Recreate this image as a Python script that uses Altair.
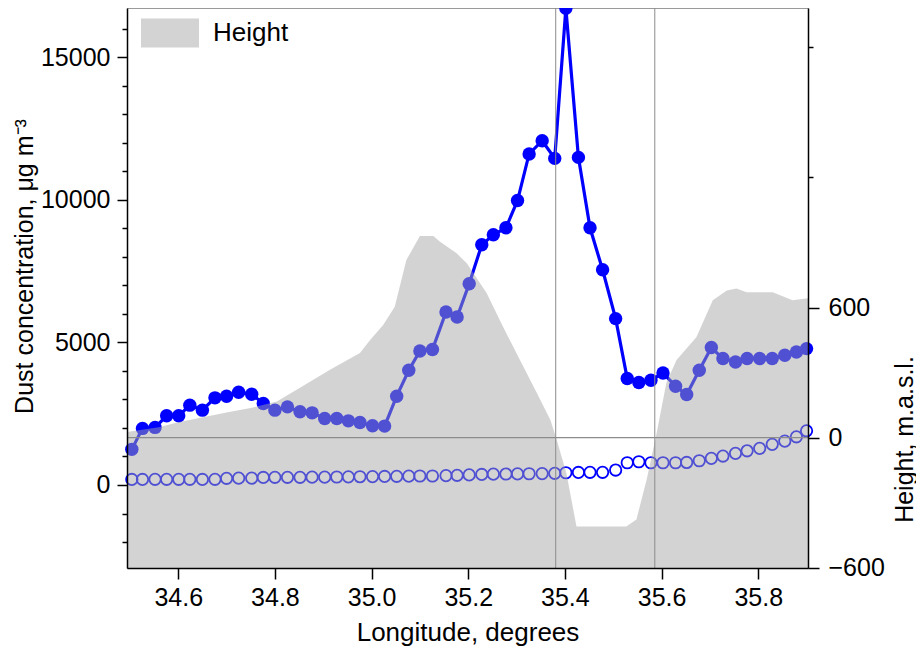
import altair as alt
import pandas as pd

# ---------------- data ----------------
lon = [34.504, 34.526, 34.552, 34.576, 34.601, 34.624, 34.650, 34.676, 34.700, 34.725,
       34.752, 34.776, 34.800, 34.826, 34.852, 34.877, 34.903, 34.928, 34.952, 34.976,
       35.002, 35.027, 35.052, 35.077, 35.100, 35.126, 35.154, 35.177, 35.202, 35.228,
       35.252, 35.278, 35.302, 35.326, 35.353, 35.379, 35.402, 35.428, 35.452, 35.478,
       35.505, 35.529, 35.553, 35.578, 35.603, 35.629, 35.652, 35.678, 35.703, 35.727,
       35.753, 35.777, 35.803, 35.829, 35.855, 35.879, 35.900]

dust = [1250, 1985, 2020, 2427, 2427, 2800, 2625, 3057, 3115, 3255,
        3185, 2858, 2625, 2740, 2567, 2530, 2333, 2333, 2250, 2193,
        2077, 2065, 3115, 4025, 4700, 4750, 6066, 5890, 7060, 8424,
        8774, 9020, 9975, 11610, 12075, 11455, 16720, 11490, 9020, 7550,
        5835, 3734, 3594, 3675, 3930, 3465, 3174, 4025, 4820, 4434,
        4316, 4434, 4434, 4434, 4550, 4665, 4783]

dust_open = [195, 195, 200, 200, 200, 200, 195, 200, 235, 240,
             240, 265, 270, 270, 270, 275, 275, 280, 285, 290,
             295, 300, 305, 310, 315, 315, 330, 340, 355, 370,
             380, 385, 390, 395, 400, 410, 430, 440, 445, 445,
             525, 780, 815, 780, 780, 780, 790, 850, 934, 1015,
             1110, 1200, 1285, 1425, 1540, 1690, 1900]

h_lon = [34.494, 34.560, 34.600, 34.700, 34.755, 34.804, 34.845, 34.914, 34.976, 34.997,
         35.024, 35.048, 35.072, 35.100, 35.128, 35.141, 35.176, 35.197, 35.238, 35.272,
         35.307, 35.342, 35.370, 35.383, 35.403, 35.424, 35.527, 35.548, 35.569, 35.590,
         35.610, 35.631, 35.672, 35.706, 35.735, 35.755, 35.776, 35.830, 35.871, 35.903]
h_val = [25, 47, 70, 116, 139, 166, 221, 313, 390, 450,
         519, 604, 819, 930, 930, 904, 850, 804, 667, 511,
         358, 206, 81, -10, -164, -410, -410, -378, -196, 22,
         253, 358, 463, 633, 679, 688, 670, 670, 633, 643]

cut_lon = [35.381, 35.586]
height_ref = [0]

x_ticks = [34.6, 34.8, 35.0, 35.2, 35.4, 35.6, 35.8]
left_ticks = [-2000, -1000, 0, 1000, 2000, 3000, 4000, 5000, 6000, 7000, 8000,
              9000, 10000, 11000, 12000, 13000, 14000, 15000, 16000]
right_ticks = [-600, 0, 600, 1200, 1800]

x_domain = [34.494, 35.903]
left_domain = [-2911, 16729]
right_domain = [-602, 1982]

FONT = "Liberation Sans"
BLUE = "#0000ff"
RULE = "#8c8c8c"

df = pd.DataFrame({"lon": lon, "dust": dust, "dust_open": dust_open})
hdf = pd.DataFrame({"lon": h_lon, "height": h_val, "series": ["Height"] * len(h_lon)})
zdf = pd.DataFrame({"height": height_ref})
cdf = pd.DataFrame({"lon": cut_lon})

# ---------------- scales & axes ----------------
X = alt.X("lon:Q",
          scale=alt.Scale(domain=x_domain, nice=False, zero=False),
          axis=alt.Axis(values=x_ticks, format=".1f", title="Longitude, degrees",
                        tickSize=11, labelPadding=6, titleBaseline="alphabetic",
                        titleY=72, titleFontSize=26, zindex=1))

left_scale = alt.Scale(domain=left_domain, nice=False, zero=False)
left_axis = alt.Axis(values=left_ticks, orient="left",
                     labelExpr="datum.value % 5000 === 0 ? format(datum.value, 'd') : ''",
                     tickSize={"condition": {"test": "datum.value % 5000 === 0", "value": 10}, "value": 5},
                     labelPadding=7, labelOverlap=False,
                     title="Dust concentration, μg m⁻³", titleAngle=270,
                     titleX=-95, titleY=258, titleAlign="center",
                     titleBaseline="alphabetic", zindex=1)

right_scale = alt.Scale(domain=right_domain, nice=False, zero=False)
right_axis = alt.Axis(values=right_ticks, orient="right",
                      labelExpr="datum.value <= 600 ? format(datum.value, 'd') : ''",
                      tickSize={"condition": {"test": "datum.value <= 600", "value": 11}, "value": 5},
                      labelPadding=9, labelOverlap=False,
                      title="Height, m.a.s.l.", titleAngle=270,
                      titleX=104, titleY=431, titleAlign="center",
                      titleBaseline="alphabetic", zindex=1)

Y_dust = alt.Y("dust:Q", scale=left_scale, axis=left_axis)

# ---------------- layers ----------------
line = alt.Chart(df).mark_line(color=BLUE, strokeWidth=3.2).encode(x=X, y=Y_dust)
dots = alt.Chart(df).mark_circle(color=BLUE, size=180, opacity=1).encode(x=X, y=Y_dust)
opens = alt.Chart(df).mark_point(shape="circle", filled=False, color=BLUE,
                                 strokeWidth=1.8, size=130, opacity=1).encode(
    x=X, y=alt.Y("dust_open:Q", scale=left_scale, axis=left_axis))

area = alt.Chart(hdf).mark_area(opacity=0.486).encode(
    x=X,
    y=alt.Y("height:Q", scale=right_scale, axis=right_axis),
    y2=alt.datum(right_domain[0]),
    color=alt.Color("series:N",
                    scale=alt.Scale(domain=["Height"], range=["#a4a4a4"]),
                    legend=alt.Legend(title=None, orient="none", legendX=14, legendY=-4,
                                      symbolType="M-1,-0.5H1V0.5H-1Z", symbolSize=3364,
                                      symbolOpacity=0.486, symbolStrokeWidth=0,
                                      labelFont=FONT, labelFontSize=26, labelColor="black",
                                      labelOffset=14, padding=0)))

hrule = alt.Chart(zdf).mark_rule(color=RULE, strokeWidth=1.3).encode(
    y=alt.Y("height:Q", scale=right_scale, axis=right_axis))
vrules = alt.Chart(cdf).mark_rule(color=RULE, strokeWidth=1).encode(x=X)

left_group = alt.layer(line, dots, opens)
right_group = alt.layer(area, hrule, vrules)

chart = alt.layer(left_group, right_group).resolve_scale(y="independent").properties(
    width=681, height=560,
    padding={"left": 119, "right": 108, "top": 0, "bottom": 81},
    autosize=alt.AutoSizeParams(type="none"),
).configure_view(
    stroke="#9a9a9a", strokeWidth=1
).configure_axis(
    domainColor="black", domainWidth=1.5, tickColor="black", tickWidth=1.5,
    labelFont=FONT, labelFontSize=25, labelColor="black",
    titleFont=FONT, titleFontSize=25, titleFontWeight="normal", titleColor="black",
    grid=False
)

chart.save("out.html", embed_options={"renderer": "svg", "actions": False})
